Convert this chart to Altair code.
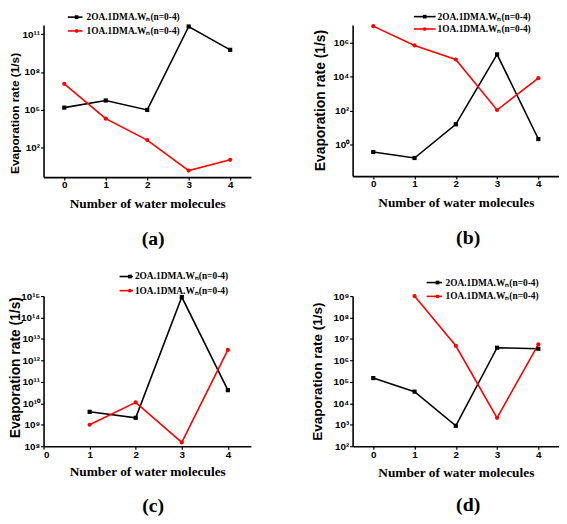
import altair as alt
import pandas as pd

SERIES = ["2OA.1DMA.Wₙ(n=0-4)", "1OA.1DMA.Wₙ(n=0-4)"]
COLORS = ["#000000", "#ff0000"]
SHAPES = ["square", "circle"]
X_TICKS = [0, 1, 2, 3, 4]
PANEL_LABELS = ["(a)", "(b)", "(c)", "(d)"]
Y_TITLE = "Evaporation rate (1/s)"
X_TITLE = "Number of water molecules"

# panel (a)
A_BLACK_X = [0, 1, 2, 3, 4]
A_BLACK_Y = [1.5e5, 5.5e5, 9.8e4, 4.0e11, 5.7e9]
A_RED_X = [0, 1, 2, 3, 4]
A_RED_Y = [1.15e7, 2.0e4, 400, 1.55, 11]
A_Y_TICKS = [1e2, 1e5, 1e8, 1e11]

# panel (b)
B_BLACK_X = [0, 1, 2, 3, 4]
B_BLACK_Y = [0.38, 0.17, 16, 2.0e5, 2.2]
B_RED_X = [0, 1, 2, 3, 4]
B_RED_Y = [9.0e6, 6.7e5, 1.0e5, 110, 8.1e3]
B_Y_TICKS = [1e0, 1e2, 1e4, 1e6]

# panel (c)
C_BLACK_X = [1, 2, 3, 4]
C_BLACK_Y = [4.0e9, 2.1e9, 9.0e14, 4.1e10]
C_RED_X = [1, 2, 3, 4]
C_RED_Y = [1.0e9, 1.1e10, 1.5e8, 3.1e12]
C_Y_TICKS = [1e8, 1e9, 1e10, 1e11, 1e12, 1e13, 1e14, 1e15]

# panel (d)
D_BLACK_X = [0, 1, 2, 3, 4]
D_BLACK_Y = [1.5e5, 3.5e4, 890, 3.9e6, 3.5e6]
D_RED_X = [1, 2, 3, 4]
D_RED_Y = [1.0e9, 4.8e6, 2.1e3, 5.6e6]
D_Y_TICKS = [1e2, 1e3, 1e4, 1e5, 1e6, 1e7, 1e8, 1e9]

SANS = "Liberation Sans"
SERIF = "Liberation Serif"

SUP = "['⁰','¹','²','³','⁴','⁵','⁶','⁷','⁸','⁹']"
E = "round(log(datum.value)/LN10)"
SUP_EXPR = f"'10' + ({E} >= 10 ? {SUP}[floor({E}/10)] : '') + {SUP}[{E} % 10]"


def make_panel(series, xdom, ydom, yticks, width, height, cfg, label):
    xenc = alt.X(
        "x:Q",
        scale=alt.Scale(domain=xdom, nice=False, zero=False),
        axis=alt.Axis(values=X_TICKS, format="d", title=X_TITLE,
                      titleFont=SERIF, titleFontSize=13.5, titleY=cfg["xty"],
                      titleBaseline="middle", labelPadding=0),
    )
    yenc = alt.Y(
        "y:Q",
        scale=alt.Scale(type="log", domain=ydom, nice=False),
        axis=alt.Axis(values=yticks, labelExpr=SUP_EXPR, title=Y_TITLE,
                      titleFont=SANS, titleFontSize=cfg["yts"], titleX=cfg["ytx"],
                      titleY=cfg["yty"], titleAngle=270, titleAlign="center",
                      titleBaseline="middle", labelPadding=1),
    )
    layers = []
    for i, (xs, ys) in enumerate(series):
        df = pd.DataFrame({"x": xs, "y": ys})
        layers.append(alt.Chart(df).mark_line(color=COLORS[i], strokeWidth=1.6)
                      .encode(x=xenc, y=yenc))
    for i, (xs, ys) in enumerate(series):
        df = pd.DataFrame({"x": xs, "y": ys})
        layers.append(alt.Chart(df).mark_point(shape=SHAPES[i], filled=True, size=18,
                                               color=COLORS[i], opacity=1)
                      .encode(x=xenc, y=yenc))
    # legend
    for i, name in enumerate(SERIES):
        ldf = pd.DataFrame({"t": [name]})
        ry = cfg["rows"][i]
        layers.append(alt.Chart(ldf).mark_rule(color=COLORS[i], strokeWidth=1.6)
                      .encode(x=alt.value(cfg["lx"][0]), x2=alt.value(cfg["lx"][1]),
                              y=alt.value(ry)))
        layers.append(alt.Chart(ldf).mark_point(shape=SHAPES[i], filled=True, size=14,
                                                color=COLORS[i], opacity=1)
                      .encode(x=alt.value(cfg["lm"]), y=alt.value(ry)))
        layers.append(alt.Chart(ldf).mark_text(align="left", baseline="middle", font=SERIF,
                                               fontWeight="bold", fontSize=9.5, color="black")
                      .encode(x=alt.value(cfg["lt"]), y=alt.value(ry), text="t:N"))
    pdf = pd.DataFrame({"t": [label]})
    layers.append(alt.Chart(pdf).mark_text(align="center", baseline="middle", font=SERIF,
                                           fontWeight="bold", fontSize=20, color="black")
                  .encode(x=alt.value(cfg["px"]), y=alt.value(cfg["py"]), text="t:N"))
    return alt.layer(*layers).properties(width=width, height=height)


pa = make_panel([(A_BLACK_X, A_BLACK_Y), (A_RED_X, A_RED_Y)], [-0.5, 4.5],
                [10 ** -0.33, 10 ** 11.72], A_Y_TICKS, 210, 154,
                dict(xty=27, yts=12, ytx=-29, yty=89, rows=[-8, 6], lx=[24.5, 39.5],
                     lm=33.5, lt=43.5, px=111, py=217), PANEL_LABELS[0])
pb = make_panel([(B_BLACK_X, B_BLACK_Y), (B_RED_X, B_RED_Y)], [-0.5, 4.5],
                [10 ** -1.83, 10 ** 7.02], B_Y_TICKS, 209, 153,
                dict(xty=27, yts=14, ytx=-32, yty=76, rows=[-8.5, 4], lx=[62, 84],
                     lm=73, lt=86, px=117, py=216), PANEL_LABELS[1])
pc = make_panel([(C_BLACK_X, C_BLACK_Y), (C_RED_X, C_RED_Y)], [0, 4.5],
                [1e8, 1e15], C_Y_TICKS, 210, 152,
                dict(xty=26, yts=14, ytx=-28, yty=72, rows=[-19.8, -5.5], lx=[77, 90.5],
                     lm=87.5, lt=92.5, px=111, py=212.5), PANEL_LABELS[2])
pd_ = make_panel([(D_BLACK_X, D_BLACK_Y), (D_RED_X, D_RED_Y)], [-0.5, 4.5],
                 [1e2, 1e9], D_Y_TICKS, 209, 152,
                 dict(xty=27, yts=13.7, ytx=-36, yty=76, rows=[-13.7, 0.3], lx=[75, 90.5],
                      lm=86, lt=94, px=117, py=212), PANEL_LABELS[3])

chart = (
    alt.concat(pa, pb, pc, pd_, columns=2, spacing={"row": 120.5, "column": 103},
               bounds="flush")
    .properties(padding=0, background="white")
    .configure_view(strokeWidth=0)
    .configure_axis(domainColor="black", domainWidth=1.6, tickColor="black", tickWidth=1.2,
                    tickSize=3, grid=False, labelFont=SANS, labelFontWeight="bold",
                    labelFontSize=10, labelColor="black", titleColor="black",
                    titleFontWeight="bold")
)

chart.save("out.html", embed_options={"renderer": "svg", "actions": False})
